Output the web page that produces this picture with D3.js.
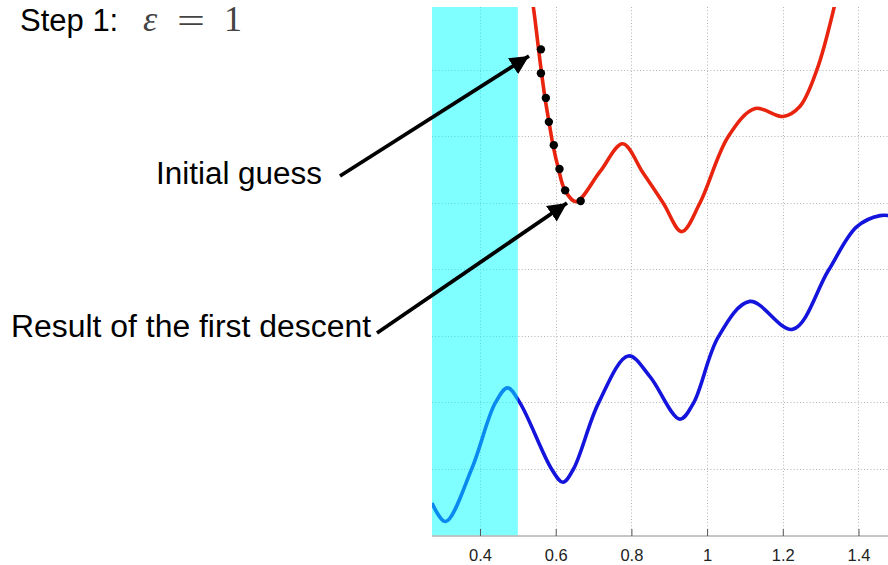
<!DOCTYPE html>
<html>
<head>
<meta charset="utf-8">
<script src="https://cdn.jsdelivr.net/npm/d3@7"></script>
<style>
  body { margin: 0; background: #fff; }
  svg { display: block; }
</style>
</head>
<body>
<div id="chart"></div>
<script>
// data
let xTicks = [0.4, 0.6, 0.8, 1, 1.2, 1.4];
let yGrid = [1, 2, 3, 4, 5, 6, 7];
let shadeEnd = 0.5;

let blueX = [0.273, 0.309, 0.378, 0.440, 0.473, 0.506, 0.589, 0.619, 0.647, 0.713, 0.792, 0.849, 0.928, 0.964, 1.030, 1.113, 1.226, 1.320, 1.395, 1.457, 1.500];
let blueY = [0.49, 0.21, 1.00, 1.99, 2.22, 1.99, 1.00, 0.80, 1.00, 1.99, 2.70, 2.39, 1.75, 1.99, 2.99, 3.52, 3.10, 3.98, 4.64, 4.81, 4.79];

let redX = [0.532, 0.5408, 0.5546, 0.5625, 0.5717, 0.5823, 0.5929, 0.6074, 0.6246, 0.6536, 0.717, 0.777, 0.831, 0.884, 0.933, 0.981, 1.056, 1.127, 1.201, 1.245, 1.290, 1.336, 1.346];
let redY = [8.23, 7.95, 7.32, 6.96, 6.58, 6.22, 5.87, 5.51, 5.19, 5.02, 5.47, 5.89, 5.45, 5.00, 4.57, 5.00, 6.00, 6.42, 6.30, 6.45, 7.00, 7.95, 8.23];

let dotX = [0.561, 0.561, 0.574, 0.582, 0.595, 0.610, 0.625, 0.666];
let dotY = [7.31, 6.95, 6.58, 6.22, 5.87, 5.51, 5.19, 5.03];

let dim = { width: 888, height: 565, left: 432, top: 7, bottom: 535.5 };

let svg = d3.select('#chart').append('svg')
    .attr('width', dim.width)
    .attr('height', dim.height);

let scaleX = d3.scaleLinear()
    .domain([0.2732, 1.5])
    .range([dim.left, dim.left + 1.2268 * 378.5]);

let scaleY = d3.scaleLinear()
    .domain([0, 7.947])
    .range([dim.bottom, dim.top]);

svg.append('defs').append('clipPath').attr('id', 'plot')
  .append('rect')
    .attr('x', dim.left).attr('y', dim.top)
    .attr('width', dim.width - dim.left).attr('height', dim.bottom - dim.top);

svg.select('defs').append('marker')
    .attr('id', 'head')
    .attr('viewBox', '0 0 10 10')
    .attr('refX', 10).attr('refY', 5)
    .attr('markerWidth', 5).attr('markerHeight', 5)
    .attr('markerUnits', 'strokeWidth')
    .attr('orient', 'auto')
  .append('path')
    .attr('d', 'M0,0 L10,5 L0,10 Z')
    .attr('fill', '#000');

// grid
let grid = svg.append('g').attr('stroke', '#b4b4b4').attr('stroke-width', 1).attr('stroke-dasharray', '1,2.2');
grid.selectAll('.vx').data(xTicks).join('line')
    .attr('x1', d => Math.round(scaleX(d)) + 0.5).attr('x2', d => Math.round(scaleX(d)) + 0.5)
    .attr('y1', dim.top).attr('y2', dim.bottom);
grid.selectAll('.hy').data(yGrid).join('line')
    .attr('x1', dim.left).attr('x2', dim.width)
    .attr('y1', d => Math.round(scaleY(d)) + 0.5).attr('y2', d => Math.round(scaleY(d)) + 0.5);

let line = d3.line()
    .x(d => scaleX(d[0]))
    .y(d => scaleY(d[1]))
    .curve(d3.curveCatmullRom.alpha(0.5));

let plot = svg.append('g').attr('clip-path', 'url(#plot)');

plot.append('path')
    .datum(blueX.map((x, i) => [x, blueY[i]]))
    .attr('d', line)
    .attr('fill', 'none')
    .attr('stroke', '#1414dc')
    .attr('stroke-width', 3.6);

// shaded band sits over the blue curve
plot.append('rect')
    .attr('x', scaleX(0.2732))
    .attr('y', dim.top)
    .attr('width', scaleX(shadeEnd) - scaleX(0.2732))
    .attr('height', dim.bottom - dim.top)
    .attr('fill', '#00ffff')
    .attr('opacity', 0.5);

plot.append('path')
    .datum(redX.map((x, i) => [x, redY[i]]))
    .attr('d', line)
    .attr('fill', 'none')
    .attr('stroke', '#e8240e')
    .attr('stroke-width', 3.6);

plot.selectAll('circle').data(dotX).join('circle')
    .attr('cx', d => scaleX(d))
    .attr('cy', (d, i) => scaleY(dotY[i]))
    .attr('r', 4.2)
    .attr('fill', '#000');

// x axis
let axisX = svg.append('g')
    .attr('transform', `translate(0,${dim.bottom + 0.5})`)
    .call(d3.axisBottom(scaleX).tickValues(xTicks).tickFormat(d3.format('')).tickSizeInner(-7).tickSizeOuter(0).tickPadding(13));
axisX.select('.domain').attr('stroke', '#8c8c8c').attr('d', `M${dim.left},0H${dim.width}`);
axisX.selectAll('.tick line').attr('stroke', '#555');
axisX.selectAll('.tick text')
    .attr('fill', '#222')
    .style('font', '16.5px "Liberation Sans", Arial, sans-serif');

// annotations
let label = 'font-family: "Liberation Sans", Arial, sans-serif; font-size: 31px;';
svg.append('text').attr('x', 20).attr('y', 31).attr('style', label).attr('fill', '#000').text('Step 1:');
svg.append('text').attr('x', 156).attr('y', 184).attr('style', label).attr('fill', '#000')
    .attr('textLength', 166).attr('lengthAdjust', 'spacingAndGlyphs').text('Initial guess');
svg.append('text').attr('x', 11).attr('y', 337).attr('style', label).attr('fill', '#000')
    .attr('textLength', 360).attr('lengthAdjust', 'spacingAndGlyphs').text('Result of the first descent');

let serif = 'font-family: "Liberation Serif", "DejaVu Serif", serif; font-size: 36px;';
svg.append('text').attr('x', 150).attr('y', 31).attr('text-anchor', 'middle')
    .attr('style', serif + 'font-style: italic;').attr('fill', '#444').text('ε');
svg.append('text').attr('x', 191).attr('y', 33).attr('text-anchor', 'middle')
    .attr('textLength', 28).attr('lengthAdjust', 'spacingAndGlyphs')
    .attr('style', serif).attr('fill', '#444').text('=');
svg.append('text').attr('x', 233).attr('y', 31).attr('text-anchor', 'middle')
    .attr('style', serif).attr('fill', '#444').text('1');

let arrows = [
  { x1: 340, y1: 176, x2: 529, y2: 56 },
  { x1: 377, y1: 333, x2: 567, y2: 203 }
];
svg.selectAll('.arrow').data(arrows).join('line')
    .attr('class', 'arrow')
    .attr('x1', d => d.x1).attr('y1', d => d.y1)
    .attr('x2', d => d.x2).attr('y2', d => d.y2)
    .attr('stroke', '#000')
    .attr('stroke-width', 3.8)
    .attr('marker-end', 'url(#head)');
</script>
</body>
</html>
